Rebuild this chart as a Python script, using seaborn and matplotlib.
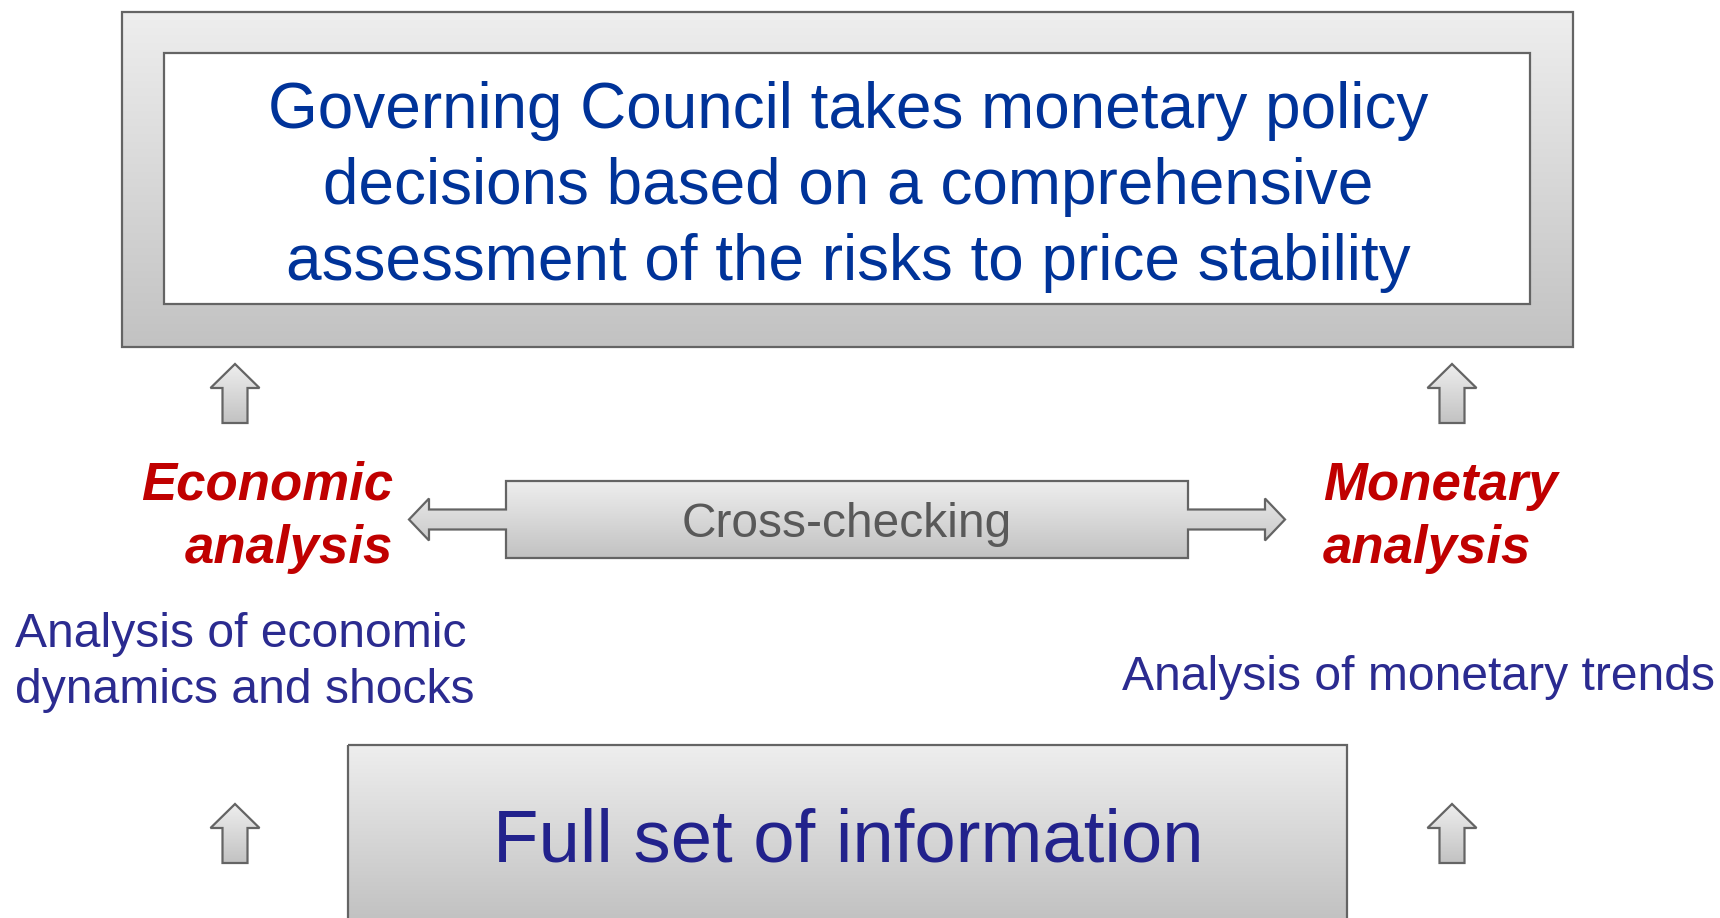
import numpy as np
import matplotlib
matplotlib.use("Agg")
import matplotlib.pyplot as plt
from matplotlib.patches import Polygon, Rectangle
from matplotlib.colors import LinearSegmentedColormap
import seaborn as sns

# Texts of the diagram
top_lines = ["Governing Council takes monetary policy",
             "decisions based on a comprehensive",
             "assessment of the risks to price stability"]
left_title = ["Economic", "analysis"]
right_title = ["Monetary", "analysis"]
left_desc = ["Analysis of economic", "dynamics and shocks"]
right_desc = ["Analysis of monetary trends"]
middle_label = "Cross-checking"
bottom_label = "Full set of information"

# Layout in pixel units (figure is 1720 x 918)
W, H = 1720, 918
outer_box = [122, 12, 1573, 347]
inner_box = [164, 53, 1530, 304]
bottom_box = [348, 745, 1347, 960]
cross_box = [506, 481, 1188, 558]
up_arrow_x = [235, 1452]
up_arrow_tips = [364, 804]

sns.set_theme(style="white")
plt.rcParams['font.family'] = ['Liberation Sans', 'DejaVu Sans']

grey_cmap = LinearSegmentedColormap.from_list("grey", ["#EEEEEE", "#C2C2C2"])
edge = "#646464"

fig = plt.figure(figsize=(W / 100, H / 100), dpi=100)
ax = fig.add_axes([0, 0, 1, 1])
ax.set_xlim(0, W)
ax.set_ylim(H, 0)
ax.axis("off")


def gradient_patch(patch, y0, y1, x0, x1):
    ax.add_patch(patch)
    grad = np.linspace(0, 1, 256).reshape(-1, 1)
    im = ax.imshow(grad, cmap=grey_cmap, extent=(x0, x1, y1, y0),
                   aspect="auto", origin="upper", zorder=patch.get_zorder() - 0.1)
    im.set_clip_path(patch)


def rect(box, **kw):
    x0, y0, x1, y1 = box
    return Rectangle((x0, y0), x1 - x0, y1 - y0, **kw)


# top box
p = rect(outer_box, facecolor="none", edgecolor=edge, lw=1.6, zorder=2)
gradient_patch(p, outer_box[1], outer_box[3], outer_box[0], outer_box[2])
ax.add_patch(rect(inner_box, facecolor="white", edgecolor=edge, lw=1.6, zorder=3))

# bottom box
p = rect(bottom_box, facecolor="none", edgecolor=edge, lw=1.6, zorder=2)
gradient_patch(p, bottom_box[1], 918, bottom_box[0], bottom_box[2])

# cross-checking double arrow
bx0, by0, bx1, by1 = cross_box
cy = (by0 + by1) / 2
shaft, head, head_len, reach = 10, 21, 20, 97
pts = [(bx0, by0), (bx1, by0), (bx1, cy - shaft),
       (bx1 + reach - head_len, cy - shaft), (bx1 + reach - head_len, cy - head),
       (bx1 + reach, cy), (bx1 + reach - head_len, cy + head),
       (bx1 + reach - head_len, cy + shaft), (bx1, cy + shaft), (bx1, by1),
       (bx0, by1), (bx0, cy + shaft), (bx0 - reach + head_len, cy + shaft),
       (bx0 - reach + head_len, cy + head), (bx0 - reach, cy),
       (bx0 - reach + head_len, cy - head), (bx0 - reach + head_len, cy - shaft),
       (bx0, cy - shaft)]
p = Polygon(pts, closed=True, facecolor="none", edgecolor=edge, lw=1.6, zorder=2)
gradient_patch(p, by0, by1, bx0 - reach, bx1 + reach)

# small up arrows
for cx in up_arrow_x:
    for tip in up_arrow_tips:
        hw, sw, hl, ln = 24.5, 12.5, 24, 59
        pts = [(cx, tip), (cx + hw, tip + hl), (cx + sw, tip + hl),
               (cx + sw, tip + ln), (cx - sw, tip + ln), (cx - sw, tip + hl),
               (cx - hw, tip + hl)]
        p = Polygon(pts, closed=True, facecolor="none", edgecolor=edge,
                    lw=1.6, zorder=2)
        gradient_patch(p, tip, tip + ln, cx - hw, cx + hw)

# texts
for line, yb in zip(top_lines, [128, 204, 280]):
    ax.text(848, yb, line, ha="center", va="baseline", fontsize=46,
            color="#003399", zorder=5)

for line, yb in zip(left_title, [500, 563]):
    ax.text(393, yb, line, ha="right", va="baseline", fontsize=38,
            color="#C00000", fontweight="bold", fontstyle="italic", zorder=5)
for line, yb in zip(right_title, [500, 563]):
    ax.text(1323, yb, line, ha="left", va="baseline", fontsize=38,
            color="#C00000", fontweight="bold", fontstyle="italic", zorder=5)

ax.text(847, 537, middle_label, ha="center", va="baseline", fontsize=34.5,
        color="#595959", zorder=5)

for line, yb in zip(left_desc, [647, 703]):
    ax.text(15, yb, line, ha="left", va="baseline", fontsize=34.6,
            color="#2B2B90", zorder=5)
for line, yb in zip(right_desc, [690]):
    ax.text(1122, yb, line, ha="left", va="baseline", fontsize=34.6,
            color="#2B2B90", zorder=5)

ax.text(848, 862, bottom_label, ha="center", va="baseline", fontsize=53.6,
        color="#22228C", zorder=5)

fig.savefig("out.png", dpi=100)
